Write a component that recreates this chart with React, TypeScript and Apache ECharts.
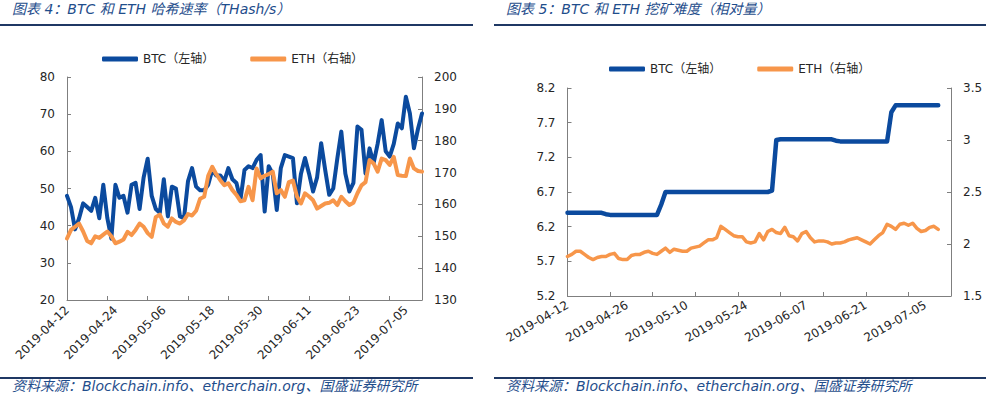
import React, { useEffect, useRef } from 'react';
import * as echarts from 'echarts';

function dateRange(start: string, count: number): string[] {
  const out: string[] = [];
  const base = new Date(start + 'T00:00:00Z').getTime();
  for (let i = 0; i < count; i++) {
    out.push(new Date(base + i * 86400000).toISOString().slice(0, 10));
  }
  return out;
}

const TITLE_LEFT = '图表 4：BTC 和 ETH 哈希速率（THash/s）';
const TITLE_RIGHT = '图表 5：BTC 和 ETH 挖矿难度（相对量）';
const SOURCE = '资料来源：Blockchain.info、etherchain.org、国盛证券研究所';
const BTC_NAME = 'BTC（左轴）';
const ETH_NAME = 'ETH（右轴）';

// Chart 4: hash rate
const HASH_DATES = dateRange('2019-04-12', 89);
const HASH_BTC = [
  48, 45, 39, 42, 46, 45, 44, 47.5, 42, 51,
  42, 36.5, 51, 47.5, 48, 43.5, 51, 51.5, 44.5, 53,
  58, 48, 44.5, 43.5, 52.5, 42.5, 50.5, 50, 42.5, 42,
  52, 55.5, 50.5, 49.5, 49.5, 51, 55, 53.5, 53.5, 52,
  55.5, 52.5, 51.5, 47, 55, 56, 55.5, 57.7, 59, 43.8,
  56, 54, 44.2, 55.5, 59, 58.6, 58.2, 46, 54, 58.2,
  54, 49.2, 53, 62.2, 55, 48.3, 50, 58, 65.3, 54,
  49.2, 51.5, 66.7, 65.8, 54, 60.8, 56.8, 62, 68.4, 60,
  58.6, 62, 67.5, 66.2, 74.7, 70.2, 60.8, 66, 70.2,
];
const HASH_ETH = [
  149.3, 152, 153, 154, 151.5, 148.5, 147.8, 150, 149.5, 150.5,
  151.5, 150, 147.8, 148.3, 149, 151.4, 150.4, 152, 154, 153,
  151, 149.8, 156, 156.8, 154, 153, 155.6, 154.5, 154, 155,
  157, 156.5, 158, 161.8, 162.4, 169, 171.8, 169.5, 167.6, 166,
  166.6, 164.5, 163, 161, 161.3, 165.5, 161.3, 171.3, 168.2, 169,
  169.5, 170.3, 163.5, 164.5, 162.4, 167, 167.5, 162.5, 160.3, 163.5,
  162.5, 161.3, 158.7, 159.5, 160.3, 160.5, 161.3, 159.8, 162.4, 161,
  159.8, 160.5, 163.5, 166, 167, 173.9, 172.9, 170.3, 174.4, 173.9,
  172.4, 174.9, 169.2, 169, 168.9, 174.4, 171.3, 170.5, 170.3,
];

// Chart 5: difficulty
const DIFF_DATES = dateRange('2019-04-12', 91);
const DIFF_BTC = [
  6.4, 6.4, 6.4, 6.4, 6.4, 6.4, 6.4, 6.4, 6.4, 6.38,
  6.37, 6.37, 6.37, 6.37, 6.37, 6.37, 6.37, 6.37, 6.37, 6.37,
  6.37, 6.37, 6.52, 6.7, 6.7, 6.7, 6.7, 6.7, 6.7, 6.7,
  6.7, 6.7, 6.7, 6.7, 6.7, 6.7, 6.7, 6.7, 6.7, 6.7,
  6.7, 6.7, 6.7, 6.7, 6.7, 6.7, 6.7, 6.7, 6.72, 7.45,
  7.46, 7.46, 7.46, 7.46, 7.46, 7.46, 7.46, 7.46, 7.46, 7.46,
  7.46, 7.46, 7.46, 7.44, 7.43, 7.43, 7.43, 7.43, 7.43, 7.43,
  7.43, 7.43, 7.43, 7.43, 7.43, 7.43, 7.85, 7.95, 7.95, 7.95,
  7.95, 7.95, 7.95, 7.95, 7.95, 7.95, 7.95, 7.95,
];
const DIFF_ETH = [
  1.88, 1.9, 1.93, 1.93, 1.9, 1.87, 1.85, 1.87, 1.88, 1.88,
  1.9, 1.91, 1.86, 1.85, 1.85, 1.89, 1.9, 1.9, 1.92, 1.93,
  1.91, 1.9, 1.93, 1.96, 1.92, 1.95, 1.94, 1.93, 1.93, 1.96,
  1.97, 1.98, 2.01, 2.04, 2.04, 2.06, 2.17, 2.14, 2.11, 2.08,
  2.07, 2.07, 2.02, 2.01, 2.02, 2.1, 2.04, 2.12, 2.14, 2.11,
  2.1, 2.16, 2.08, 2.07, 2.03, 2.1, 2.12, 2.06, 2.02, 2.03,
  2.03, 2.02, 2.0, 2.01, 2.01, 2.02, 2.04, 2.05, 2.06, 2.04,
  2.02, 2.0, 2.04, 2.08, 2.11, 2.19, 2.17, 2.14, 2.19, 2.2,
  2.18, 2.2, 2.15, 2.12, 2.13, 2.16, 2.17, 2.14,
];

const BLUE = '#0B4A9E';
const ORANGE = '#F7964A';
const NAVY = '#1F3864';
const TITLE_COLOR = '#1F4E8C';
const AXIS_COLOR = '#7F7F7F';
const LABEL_COLOR = '#262626';
const FONT = '"DejaVu Sans", "Noto Sans CJK SC", sans-serif';

function frame(title: string, ruleEnd: number) {
  return [
    {
      type: 'text', left: 12, top: 2,
      style: { text: title, fill: TITLE_COLOR, fontSize: 14, fontStyle: 'italic', fontFamily: FONT },
    },
    { type: 'line', shape: { x1: 0, y1: 25, x2: ruleEnd, y2: 25 }, style: { stroke: NAVY, lineWidth: 2 } },
    { type: 'line', shape: { x1: 0, y1: 378, x2: ruleEnd, y2: 378 }, style: { stroke: NAVY, lineWidth: 2 } },
    {
      type: 'text', left: 12, top: 379,
      style: { text: SOURCE, fill: TITLE_COLOR, fontSize: 14, fontStyle: 'italic', fontFamily: FONT },
    },
  ];
}

function valueAxis(min: number, max: number, interval: number, position: 'left' | 'right') {
  return {
    type: 'value', position, min, max, interval,
    splitLine: { show: false },
    axisLine: { show: true, lineStyle: { color: AXIS_COLOR, width: 1 } },
    axisTick: { show: true, inside: true, length: 4, lineStyle: { color: AXIS_COLOR } },
    axisLabel: { color: LABEL_COLOR, fontSize: 12, fontFamily: FONT, margin: 12 },
  };
}

function categoryAxis(dates: string[], labelInterval: number, rotate: number) {
  return {
    type: 'category', data: dates, boundaryGap: false,
    axisLine: { show: true, lineStyle: { color: AXIS_COLOR, width: 1 } },
    axisTick: { show: true, inside: true, length: 4, interval: 9, lineStyle: { color: AXIS_COLOR } },
    axisLabel: { interval: labelInterval, rotate, color: LABEL_COLOR, fontSize: 12, fontFamily: FONT, margin: 8 },
  };
}

function legend(left: number, top: number) {
  return {
    left, top, padding: 0, itemWidth: 36, itemHeight: 5, itemGap: 36, icon: 'roundRect',
    textStyle: { color: LABEL_COLOR, fontSize: 12, fontFamily: FONT },
    data: [BTC_NAME, ETH_NAME],
  };
}

function lineSeries(name: string, data: number[], color: string, width: number, yAxisIndex: number) {
  return {
    name, type: 'line', data, yAxisIndex, symbol: 'none', showSymbol: false,
    lineStyle: { color, width, cap: 'round', join: 'round' }, itemStyle: { color },
  };
}

const leftOption = {
  animation: false,
  textStyle: { fontFamily: FONT },
  graphic: frame(TITLE_LEFT, 473),
  legend: legend(102, 53),
  grid: { left: 67, right: 72, top: 77, bottom: 96 },
  xAxis: categoryAxis(HASH_DATES, 11, 45),
  yAxis: [valueAxis(20, 80, 10, 'left'), valueAxis(130, 200, 10, 'right')],
  series: [
    lineSeries(BTC_NAME, HASH_BTC, BLUE, 4, 0),
    lineSeries(ETH_NAME, HASH_ETH, ORANGE, 4, 1),
  ],
};

const rightOption = {
  animation: false,
  textStyle: { fontFamily: FONT },
  graphic: frame(TITLE_RIGHT, 492),
  legend: legend(115, 63),
  grid: { left: 73.5, right: 37, top: 88, bottom: 100 },
  xAxis: categoryAxis(DIFF_DATES, 13, 30),
  yAxis: [valueAxis(5.2, 8.2, 0.5, 'left'), valueAxis(1.5, 3.5, 0.5, 'right')],
  series: [
    lineSeries(BTC_NAME, DIFF_BTC, BLUE, 4.5, 0),
    lineSeries(ETH_NAME, DIFF_ETH, ORANGE, 3.5, 1),
  ],
};

function Chart({ option, left }: { option: any; left: number }) {
  const ref = useRef<HTMLDivElement>(null);
  useEffect(() => {
    if (!ref.current) return;
    const chart = echarts.init(ref.current, undefined, { renderer: 'svg' });
    chart.setOption(option);
    return () => chart.dispose();
  }, [option]);
  return (
    <div
      ref={ref}
      style={{ position: 'absolute', left, top: 0, width: 494, height: 396 }}
    />
  );
}

export default function App() {
  return (
    <div style={{ position: 'fixed', left: 0, top: 0, width: 988, height: 396, background: '#fff' }}>
      <Chart option={leftOption} left={0} />
      <Chart option={rightOption} left={494} />
    </div>
  );
}
